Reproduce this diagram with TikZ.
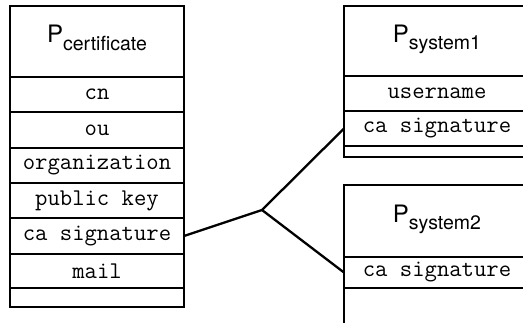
\documentclass[tikz,border=0pt]{standalone}
\usepackage{fontspec}
\setmainfont{TeX Gyre Heros}
\newfontfamily\hdrfont{TeX Gyre Heros}
\tikzset{
  frame/.style={draw=black, line width=2.3pt, inner sep=0pt, outer sep=0pt, anchor=north west},
  hdr/.style={frame, font=\hdrfont\fontsize{24}{28}\selectfont},
  fld/.style={frame, font=\ttfamily\fontsize{24}{26}\selectfont},
  link/.style={draw=black, line width=2.3pt, line cap=round}
}
\newcommand{\ptitle}[1]{\raisebox{-2.5pt}{\smash{P\raisebox{-7.7pt}{\fontsize{19.5}{22}\selectfont #1}}}}
\begin{document}
\begin{tikzpicture}[x=1pt,y=-1pt]
\useasboundingbox (0,0) rectangle (523,323);
\clip (0,0) rectangle (523,323);
% left box
\node[hdr, minimum width=174pt, minimum height=71pt] (ch) at (10,6) {\ptitle{certificate}};
\node[fld, minimum width=174pt, minimum height=35pt] (c1) at (10,77) {cn};
\node[fld, minimum width=174pt, minimum height=36pt] (c2) at (10,112) {ou};
\node[fld, minimum width=174pt, minimum height=35pt] (c3) at (10,148) {organization};
\node[fld, minimum width=174pt, minimum height=35pt] (c4) at (10,183) {public key};
\node[fld, minimum width=174pt, minimum height=36pt] (c5) at (10,218) {ca signature};
\node[fld, minimum width=174pt, minimum height=34pt] (c6) at (10,254) {mail};
\node[frame, minimum width=174pt, minimum height=19pt] (c7) at (10,288) {};
% system1
\node[hdr, minimum width=186pt, minimum height=70pt] (ah) at (344,6) {\ptitle{system1}};
\node[fld, minimum width=186pt, minimum height=35pt] (a1) at (344,76) {username};
\node[fld, minimum width=186pt, minimum height=35pt] (a2) at (344,111) {ca signature};
\node[frame, minimum width=186pt, minimum height=11pt] (a3) at (344,146) {};
% system2
\node[hdr, minimum width=186pt, minimum height=72pt] (bh) at (344,185) {\ptitle{system2}};
\node[fld, minimum width=186pt, minimum height=31pt] (b1) at (344,257) {ca signature};
\node[frame, minimum width=186pt, minimum height=45pt] (b2) at (344,288) {};
% connectors
\coordinate (j) at (262,210);
\draw[link] (c5.east) -- (j) -- (a2.west);
\draw[link] (j) -- (b1.west);
\end{tikzpicture}
\end{document}
